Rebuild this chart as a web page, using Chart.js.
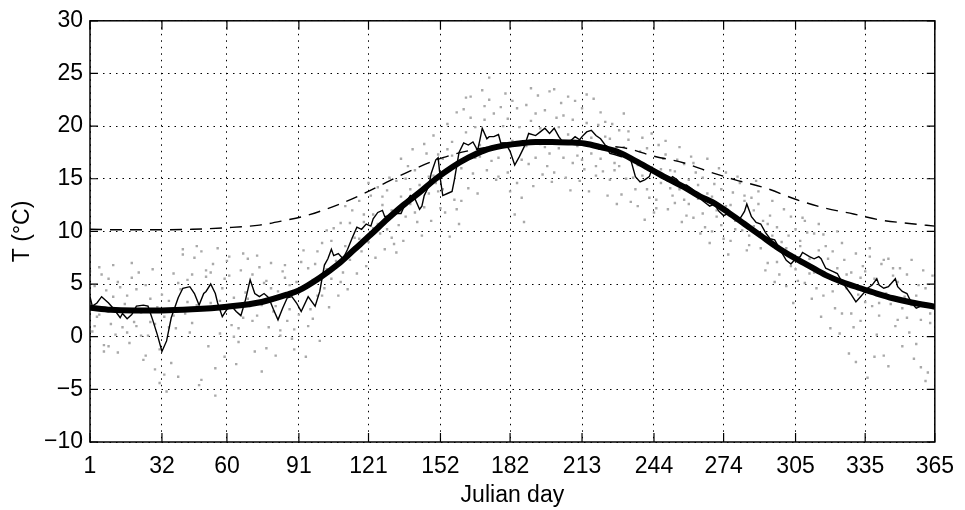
<!DOCTYPE html>
<html>
<head>
<meta charset="utf-8">
<script src="https://cdn.jsdelivr.net/npm/chart.js@4.4.0/dist/chart.umd.min.js"></script>
<style>
  html, body { margin: 0; padding: 0; background: #fff; }
  #wrap { width: 965px; height: 510px; }
</style>
</head>
<body>
<div id="wrap"><canvas id="tempChart" width="965" height="510"></canvas></div>
<script>
// ось x - юлианские дни
const tickDays = [1, 32, 60, 91, 121, 152, 182, 213, 244, 274, 305, 335, 365];
const tempTicks = [-10, -5, 0, 5, 10, 15, 20, 25, 30];

// гладкая кривая (жирная)
const smoothDays = [1, 10, 20, 32, 45, 60, 75, 86, 91, 100, 108, 115, 122, 129, 136, 143, 150, 157, 164, 171, 178, 186, 193, 200, 207, 214, 221, 229, 236, 243, 250, 257, 264, 269, 276, 283, 290, 297, 304, 311, 318, 325, 333, 340, 347, 355, 365];
const smoothTemps = [2.75, 2.55, 2.5, 2.5, 2.6, 2.85, 3.3, 4.0, 4.4, 5.6, 6.9, 8.3, 9.7, 11.15, 12.5, 13.7, 15.0, 16.1, 17.0, 17.7, 18.1, 18.35, 18.5, 18.5, 18.45, 18.35, 18.0, 17.5, 16.7, 15.85, 15.0, 14.2, 13.3, 12.8, 11.8, 10.7, 9.6, 8.5, 7.55, 6.7, 5.85, 5.2, 4.6, 4.1, 3.65, 3.25, 2.85];

// штриховая кривая
const dashedDays = [1, 15, 32, 45, 60, 74, 84, 95, 108, 120, 130, 142, 153, 165, 178, 192, 205, 218, 229, 234, 243, 257, 268, 279, 293, 305, 317, 330, 341, 354, 365];
const dashedTemps = [10.2, 10.15, 10.15, 10.2, 10.35, 10.6, 11.0, 11.55, 12.55, 13.7, 14.8, 16.05, 17.0, 17.7, 18.15, 18.4, 18.4, 18.2, 18.0, 17.8, 17.2, 16.5, 15.65, 14.9, 14.05, 13.05, 12.25, 11.65, 11.1, 10.75, 10.5];

// скользящее среднее (тонкая линия)
const runDays = [1, 2, 4, 6, 9, 11, 14, 15, 17, 19, 21, 24, 26, 28, 30, 32, 34, 36, 39, 41, 44, 46, 48, 50, 51, 53, 55, 56, 58, 60, 62, 64, 66, 68, 70, 72, 74, 76, 78, 80, 82, 84, 86, 88, 90, 92, 95, 98, 100, 102, 103.5, 105, 106, 108, 110, 112, 114, 116, 118, 120, 122, 123, 125, 127, 128, 130, 133, 135, 137, 139, 141, 143, 144, 145, 147, 148, 150, 151, 152, 153, 155, 157, 158, 159, 160, 162, 164, 166, 168, 169, 170, 172, 173, 175, 177, 178, 180, 182, 184, 186, 188, 190, 193, 195, 197, 199, 201, 203, 205, 207, 210, 212, 213, 215, 217, 219, 221, 223, 225, 227, 230, 232, 234, 236, 238, 240, 242, 243, 245, 247, 250, 252, 254, 256, 258, 260, 263, 265, 268, 270, 272, 274, 277, 279, 281, 283, 284, 286, 288, 290, 292, 294, 296, 299, 301, 303, 305, 307, 308, 311, 313, 315, 316, 318, 321, 323, 325, 327, 329, 331, 333, 335, 336, 338, 340, 341, 343, 345, 348, 349, 351, 353, 355, 357, 359, 361, 364, 365];
const runTemps = [3.8, 2.9, 3.2, 3.8, 3.2, 2.7, 1.8, 2.2, 1.7, 2.1, 2.9, 3.0, 2.9, 1.6, 0.2, -1.4, -0.4, 1.8, 3.7, 4.6, 4.75, 4.1, 3.0, 4.1, 4.3, 5.0, 4.1, 3.2, 1.9, 2.6, 2.9, 2.4, 2.0, 3.5, 5.4, 4.1, 3.8, 4.1, 3.7, 2.6, 1.6, 2.7, 3.7, 3.8, 3.2, 2.4, 3.8, 2.9, 4.3, 6.8, 7.4, 8.3, 7.7, 7.9, 7.4, 8.3, 9.4, 10.4, 10.2, 10.7, 10.5, 11.2, 11.8, 12.0, 11.4, 11.5, 11.7, 11.7, 12.7, 13.4, 13.1, 12.1, 12.4, 13.4, 14.3, 15.5, 16.8, 17.0, 14.9, 13.4, 13.6, 13.8, 14.9, 16.2, 17.5, 18.4, 18.2, 18.5, 17.7, 18.7, 19.8, 18.8, 19.0, 19.0, 19.2, 18.4, 18.4, 17.6, 16.3, 17.1, 18.0, 19.3, 19.1, 19.45, 19.8, 19.3, 19.8, 19.0, 18.4, 18.4, 19.0, 18.7, 19.0, 19.45, 19.6, 19.1, 18.8, 18.2, 17.4, 17.3, 17.1, 17.3, 16.8, 15.2, 14.7, 14.9, 15.2, 15.85, 15.5, 15.1, 14.8, 15.2, 14.9, 14.3, 14.4, 14.1, 13.5, 12.9, 12.4, 12.6, 11.9, 11.5, 11.8, 11.2, 11.2, 11.9, 12.6, 11.4, 10.85, 10.7, 9.9, 9.3, 9.2, 8.0, 7.25, 6.9, 7.4, 7.6, 8.0, 7.6, 7.4, 7.6, 7.4, 6.5, 6.2, 6.0, 5.2, 4.6, 4.0, 3.3, 3.8, 4.3, 4.6, 4.9, 5.5, 4.9, 4.6, 4.75, 5.5, 4.75, 4.3, 4.1, 3.2, 2.7, 2.9, 3.0, 2.9, 3.0];

// суточные значения за разные годы, каждый 4-й день
const scatterStep = 4;
const yearStart = [1, 2, 3, 4, 1, 3];
const yearA = [6.2, 2.1, 5.5, -1.5, 3.9, 1.0, 4.9, -3.1, 1.9, 6.0, 7.8, 1.3, 8.1, 3.2, 0.3, 5.8, -0.5, 7.4, 2.0, 5.3, -1.8, 6.8, 0.7, 4.8, 1.7, 8.9, 5.5, 10.8, 7.3, 12.9, 9.0, 14.2, 10.2, 14.8, 11.4, 15.8, 12.3, 19.1, 16.9, 18.5, 16.0, 22.8, 17.1, 24.6, 15.2, 20.7, 14.6, 22.0, 17.0, 21.5, 15.6, 21.0, 16.5, 21.7, 17.4, 21.3, 14.9, 19.6, 18.7, 12.4, 17.9, 13.0, 17.3, 12.7, 16.4, 11.3, 15.1, 10.0, 14.0, 9.1, 14.6, 8.7, 12.6, 7.0, 10.4, 4.8, 10.2, 5.1, 9.8, 3.9, 8.1, 2.2, 6.1, 1.5, 7.6, 2.0, 7.4, 1.6, 5.9, -0.7, 4.6];
const yearB = [0.5, 5.9, 1.2, 4.7, -0.6, 6.1, 0.1, 2.8, -5.2, 0.8, 2.2, 7.5, 2.6, 6.9, 4.6, 1.1, 6.3, 2.9, 6.6, 0.9, 4.3, 1.5, 5.2, -1.9, 6.9, 4.6, 10.3, 6.1, 12.0, 8.1, 13.4, 9.8, 15.1, 10.6, 16.2, 10.9, 17.4, 14.6, 11.8, 13.0, 21.6, 15.5, 23.4, 16.7, 21.8, 13.8, 19.9, 16.4, 22.9, 16.2, 20.8, 15.1, 22.4, 15.9, 22.6, 15.7, 20.2, 13.5, 12.8, 17.6, 13.2, 18.2, 12.1, 16.8, 11.5, 15.6, 10.4, 14.5, 9.3, 13.7, 10.1, 13.2, 8.4, 11.5, 5.9, 9.6, 5.3, 9.9, 4.6, 8.6, 2.7, 7.3, 0.9, 6.7, 2.9, 6.9, 3.1, 6.5, 0.4, 4.9, -3.4];
const yearC = [4.8, -0.8, 3.8, 0.9, 5.6, 2.3, 3.6, -1.2, 3.4, -3.8, 5.4, 3.0, 5.7, -3.0, -1.9, 3.7, 1.8, 5.9, -3.3, 7.0, 0.6, 4.9, 2.1, 6.5, 3.9, 6.4, 7.2, 8.6, 9.4, 10.9, 11.6, 12.5, 12.0, 13.3, 14.0, 13.7, 15.2, 17.3, 20.2, 21.3, 19.4, 19.9, 20.6, 21.2, 18.3, 22.4, 16.8, 20.5, 19.8, 23.3, 17.9, 19.2, 18.1, 20.3, 15.3, 19.0, 16.5, 18.0, 16.9, 15.3, 16.1, 14.6, 15.8, 14.0, 14.9, 13.1, 13.6, 12.0, 12.4, 11.0, 12.9, 10.5, 11.0, 9.6, 8.3, 6.7, 8.6, 7.4, 8.2, 5.8, 6.5, 4.6, -2.4, 3.3, 5.5, -1.8, 5.8, -0.9, 3.0, 1.6, 2.2];
const yearD = [1.9, 4.4, 0.2, 3.1, 1.4, -2.2, 6.4, 4.0, -2.5, 4.5, 0.4, -4.6, -0.9, 8.4, 7.2, -2.6, 4.2, -1.4, 5.1, 2.4, 6.2, -0.2, 7.1, 2.6, -0.4, 2.8, 3.9, 4.5, 6.0, 6.7, 7.5, 8.3, 8.8, 9.1, 17.8, 9.6, 11.0, 12.2, 9.5, 10.7, 14.1, 13.6, 15.8, 14.9, 23.1, 11.6, 10.9, 14.3, 15.4, 14.7, 22.2, 13.9, 14.8, 13.8, 20.1, 13.4, 12.6, 15.0, 14.0, 11.1, 11.8, 16.9, 13.4, 10.9, 17.1, 9.8, 8.9, 16.0, 7.8, 15.2, 8.2, 14.8, 6.3, 5.2, 12.1, 3.2, 11.3, 3.6, 1.9, 0.8, 0.3, -1.6, 4.0, -3.9, 0.2, 4.1, 1.0, 3.8, -2.1, 6.3, 5.8];
const yearE = [2.8, 6.6, -0.9, 5.2, 0.4, 4.5, -1.8, 1.2, -3.6, 2.0, 8.3, 5.9, -4.1, 6.1, 3.4, 7.6, 0.8, 3.6, 7.7, -1.1, 2.9, 5.6, -1.2, 8.2, 5.4, 3.9, 9.1, 5.2, 10.8, 9.3, 14.6, 10.7, 13.9, 8.0, 15.0, 11.8, 18.3, 15.3, 14.0, 17.2, 12.9, 20.8, 18.2, 22.5, 17.0, 15.6, 21.7, 18.1, 21.2, 18.0, 23.5, 17.0, 20.6, 16.8, 18.9, 16.9, 18.8, 16.2, 19.5, 16.3, 14.0, 12.2, 18.6, 15.7, 13.0, 16.5, 11.7, 13.3, 10.6, 12.5, 11.1, 9.6, 13.8, 10.7, 7.1, 8.4, 6.4, 11.0, 6.1, 9.7, 4.3, 8.9, 2.2, 5.6, 8.4, 3.2, -2.8, 5.2, 1.8, 3.9, -4.2];
const yearF = [1.0, -1.4, 6.8, 2.6, 7.0, 0.1, 1.4, -4.4, 0.9, 5.1, 3.3, 8.6, 6.3, -5.6, 5.5, 0.0, 7.9, 1.5, 3.0, 4.6, 0.1, 2.6, 4.2, 1.0, 8.1, 10.1, 6.6, 12.4, 8.5, 11.6, 10.3, 13.3, 9.4, 16.9, 12.6, 14.4, 13.6, 13.8, 17.8, 12.1, 22.7, 17.0, 21.9, 18.1, 20.0, 18.6, 13.2, 23.6, 18.3, 17.4, 19.9, 22.8, 17.2, 23.0, 16.2, 20.4, 15.8, 21.2, 15.1, 18.9, 19.3, 15.9, 14.1, 18.0, 12.6, 14.4, 16.9, 11.4, 15.6, 10.2, 13.4, 12.0, 9.5, 12.9, 9.0, 11.4, 9.1, 6.0, 10.7, 7.4, 10.0, 5.9, 7.9, 6.2, -1.9, 7.3, 6.5, 2.7, 7.3, -2.9, 1.3];

function toPoints(xs, ys) {
  return xs.map((x, i) => ({ x: x, y: ys[i] }));
}

function yearPoints(values, start) {
  return values.map((v, i) => ({ x: start + i * scatterStep, y: v }));
}

const FONT = 'Liberation Sans, Arial, Helvetica, sans-serif';

// рамка и внутренние засечки как в matlab
const boxPlugin = {
  id: 'boxTicks',
  afterDatasetsDraw(chart) {
    const ctx = chart.ctx;
    const area = chart.chartArea;
    const xs = chart.scales.x;
    const ys = chart.scales.y;
    ctx.save();
    ctx.strokeStyle = '#000';
    ctx.lineWidth = 1.5;
    ctx.strokeRect(area.left, area.top, area.right - area.left, area.bottom - area.top);
    ctx.lineWidth = 1.2;
    ctx.beginPath();
    tickDays.forEach(d => {
      const px = xs.getPixelForValue(d);
      ctx.moveTo(px, area.bottom);
      ctx.lineTo(px, area.bottom - 9);
      ctx.moveTo(px, area.top);
      ctx.lineTo(px, area.top + 9);
    });
    tempTicks.forEach(t => {
      const py = ys.getPixelForValue(t);
      ctx.moveTo(area.left, py);
      ctx.lineTo(area.left + 8, py);
      ctx.moveTo(area.right, py);
      ctx.lineTo(area.right - 8, py);
    });
    ctx.stroke();
    ctx.restore();
  }
};

const scatterSets = [yearA, yearB, yearC, yearD, yearE, yearF].map((vals, k) => ({
  label: 'year' + (k + 1),
  data: yearPoints(vals, yearStart[k]),
  showLine: false,
  pointStyle: 'rect',
  pointRadius: 1.7,
  pointBackgroundColor: '#a9a9a9',
  pointBorderWidth: 0,
  order: 3
}));

let ctx = document.getElementById('tempChart').getContext('2d');
let tempChart = new Chart(ctx, {
  type: 'scatter',
  data: {
    datasets: [
      {
        label: 'smooth',
        data: toPoints(smoothDays, smoothTemps),
        showLine: true,
        borderColor: '#000',
        borderWidth: 6,
        pointRadius: 0,
        cubicInterpolationMode: 'monotone',
        order: 0
      },
      {
        label: 'running',
        data: toPoints(runDays, runTemps),
        showLine: true,
        borderColor: '#000',
        borderWidth: 1.4,
        pointRadius: 0,
        tension: 0,
        order: 1
      },
      {
        label: 'dashed',
        data: toPoints(dashedDays, dashedTemps),
        showLine: true,
        borderColor: '#000',
        borderWidth: 1.4,
        borderDash: [12, 8],
        pointRadius: 0,
        cubicInterpolationMode: 'monotone',
        order: 2
      },
      ...scatterSets
    ]
  },
  options: {
    responsive: false,
    animation: false,
    devicePixelRatio: 1,
    layout: { padding: { top: 16, right: 23, left: 0, bottom: 0 } },
    plugins: {
      legend: { display: false },
      tooltip: { enabled: false }
    },
    scales: {
      x: {
        type: 'linear',
        min: 1,
        max: 365,
        afterBuildTicks: axis => { axis.ticks = tickDays.map(v => ({ value: v })); },
        afterFit: axis => { axis.height = 68; },
        ticks: {
          color: '#000',
          font: { family: FONT, size: 23 },
          padding: 11,
          maxRotation: 0,
          autoSkip: false
        },
        grid: {
          color: '#000',
          lineWidth: 1,
          drawTicks: false
        },
        border: { display: false, dash: [1.5, 5] },
        title: {
          display: true,
          text: 'Julian day',
          color: '#000',
          font: { family: FONT, size: 23 },
          padding: { top: 0, bottom: 1 }
        }
      },
      y: {
        type: 'linear',
        min: -10,
        max: 30,
        afterBuildTicks: axis => { axis.ticks = tempTicks.map(v => ({ value: v })); },
        afterFit: axis => { axis.width = 90; },
        ticks: {
          color: '#000',
          font: { family: FONT, size: 23 },
          padding: 7,
          callback: v => (v < 0 ? '\u2212' + Math.abs(v) : String(v))
        },
        grid: {
          color: '#000',
          lineWidth: 1,
          drawTicks: false
        },
        border: { display: false, dash: [1.5, 5] },
        title: {
          display: true,
          text: 'T (°C)',
          color: '#000',
          font: { family: FONT, size: 23 },
          padding: { top: 9, bottom: 0 }
        }
      }
    }
  },
  plugins: [boxPlugin]
});
</script>
</body>
</html>
